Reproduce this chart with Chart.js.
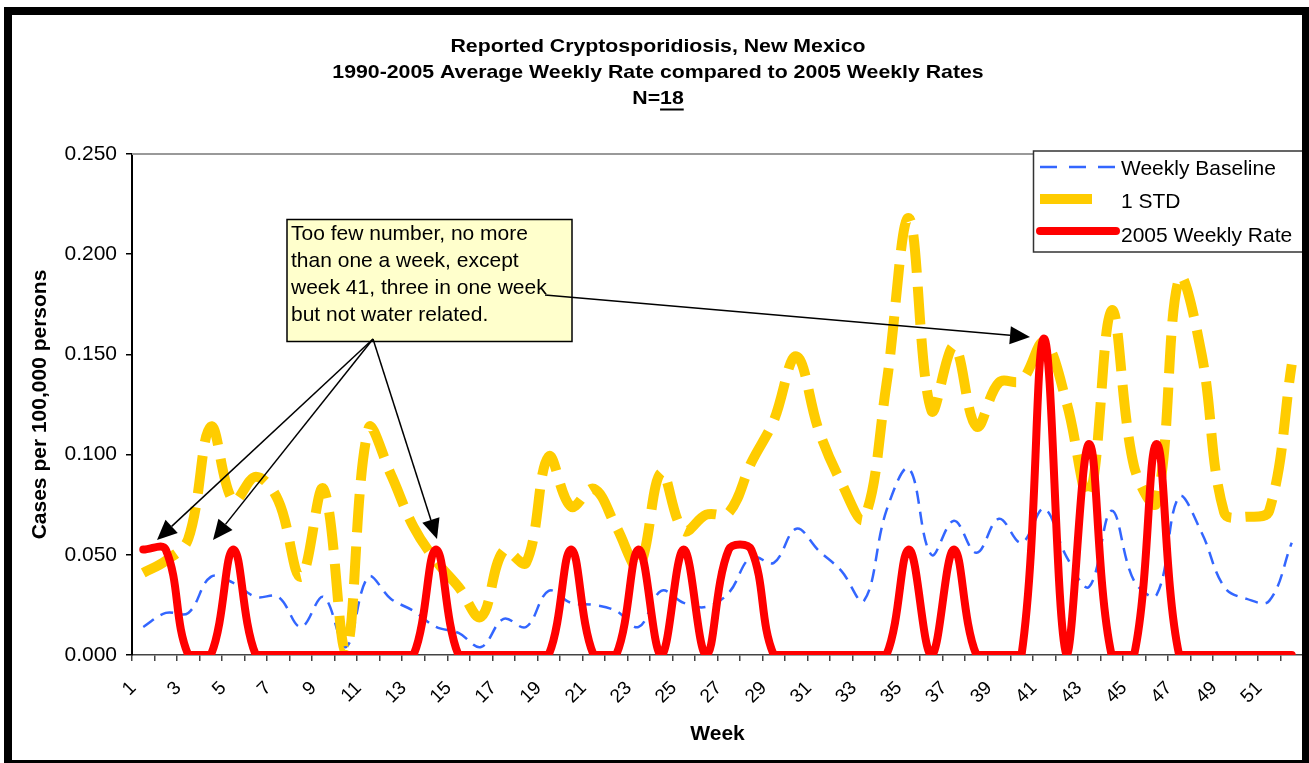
<!DOCTYPE html>
<html>
<head>
<meta charset="utf-8">
<title>Reported Cryptosporidiosis, New Mexico</title>
<script src="https://cdn.jsdelivr.net/npm/chart.js@4.4.0/dist/chart.umd.min.js"></script>
<style>
  html, body { margin: 0; padding: 0; background: #fff; }
  #wrap { position: relative; width: 1309px; height: 763px; }
</style>
</head>
<body>
<div id="wrap"><canvas id="weekly" width="1309" height="763"></canvas></div>
<script>
const weeks = ['1','2','3','4','5','6','7','8','9','10','11','12','13','14','15','16','17','18',
  '19','20','21','22','23','24','25','26','27','28','29','30','31','32','33','34','35','36',
  '37','38','39','40','41','42','43','44','45','46','47','48','49','50','51','52'];

// 1990-2005 average weekly rate
const baseline = [0.014, 0.021, 0.021, 0.039, 0.036, 0.029, 0.029, 0.014, 0.029, 0.004,
  0.039, 0.028, 0.022, 0.014, 0.011, 0.004, 0.018, 0.014, 0.032, 0.026,
  0.025, 0.022, 0.014, 0.032, 0.026, 0.024, 0.031, 0.049, 0.046, 0.063,
  0.052, 0.042, 0.027, 0.072, 0.093, 0.050, 0.067, 0.051, 0.068, 0.056,
  0.073, 0.049, 0.034, 0.072, 0.037, 0.030, 0.079, 0.061, 0.034, 0.028,
  0.027, 0.056];

// baseline + 1 standard deviation
const oneStd = [0.041, 0.047, 0.058, 0.114, 0.077, 0.089, 0.077, 0.039, 0.083, 0.002,
  0.113, 0.090, 0.064, 0.047, 0.034, 0.019, 0.052, 0.046, 0.099, 0.074,
  0.083, 0.064, 0.044, 0.091, 0.062, 0.070, 0.071, 0.096, 0.117, 0.149,
  0.112, 0.086, 0.068, 0.135, 0.218, 0.122, 0.154, 0.114, 0.136, 0.137,
  0.156, 0.126, 0.079, 0.172, 0.094, 0.076, 0.188, 0.150, 0.071, 0.069,
  0.072, 0.145];

// 2005 weekly rate (one case = 0.0526 per 100,000)
const rate2005 = [0.0526, 0.0526, 0, 0, 0.0526, 0, 0, 0, 0, 0,
  0, 0, 0, 0.0526, 0, 0, 0, 0, 0, 0.0526,
  0, 0, 0.0526, 0, 0.0526, 0, 0.0526, 0.0526, 0, 0,
  0, 0, 0, 0, 0.0526, 0, 0.0526, 0, 0, 0,
  0.1579, 0, 0.1053, 0, 0, 0.1053, 0, 0, 0, 0,
  0, 0];

const yTickValues = [0, 0.05, 0.10, 0.15, 0.20, 0.25];

const FONT = "'Liberation Sans', Arial, Helvetica, sans-serif";

const titleLines = [
  'Reported Cryptosporidiosis, New Mexico',
  '1990-2005 Average Weekly Rate compared to 2005 Weekly Rates'
];
const noteLines = [
  'Too few number, no more',
  'than one a week, except',
  'week 41, three in one week',
  'but not water related.'
];

function arrow(ctx, x0, y0, x1, y1) {
  const a = Math.atan2(y1 - y0, x1 - x0);
  const len = 20, half = 9;
  const bx = x1 - len * Math.cos(a), by = y1 - len * Math.sin(a);
  ctx.beginPath();
  ctx.moveTo(x0, y0);
  ctx.lineTo(bx, by);
  ctx.stroke();
  ctx.beginPath();
  ctx.moveTo(x1, y1);
  ctx.lineTo(bx + half * Math.sin(a), by - half * Math.cos(a));
  ctx.lineTo(bx - half * Math.sin(a), by + half * Math.cos(a));
  ctx.closePath();
  ctx.fill();
}

const decorations = {
  id: 'decorations',
  beforeDraw(chart) {
    const ctx = chart.ctx;
    ctx.save();
    ctx.fillStyle = '#fff';
    ctx.fillRect(0, 0, chart.width, chart.height);
    ctx.restore();
  },
  afterDraw(chart) {
    const ctx = chart.ctx;
    const area = chart.chartArea;
    ctx.save();

    // plot area top edge
    ctx.strokeStyle = '#999';
    ctx.lineWidth = 2;
    ctx.beginPath();
    ctx.moveTo(area.left, area.top);
    ctx.lineTo(area.right, area.top);
    ctx.stroke();

    // title, drawn slightly widened
    ctx.fillStyle = '#000';
    ctx.font = 'bold 19px ' + FONT;
    ctx.textBaseline = 'alphabetic';
    ctx.textAlign = 'center';
    const cx = 658, sx = 1.12;
    ctx.save();
    ctx.translate(cx, 0);
    ctx.scale(sx, 1);
    ctx.fillText(titleLines[0], 0, 52);
    ctx.fillText(titleLines[1], 0, 78);
    const wN = ctx.measureText('N=').width, w18 = ctx.measureText('18').width;
    const x0 = -(wN + w18) / 2;
    ctx.textAlign = 'left';
    ctx.fillText('N=', x0, 104);
    ctx.fillText('18', x0 + wN, 104);
    ctx.fillRect(x0 + wN, 108.5, w18, 2);
    ctx.restore();

    // axis titles
    ctx.font = 'bold 21px ' + FONT;
    ctx.textAlign = 'center';
    ctx.fillText('Week', (area.left + area.right) / 2, 740);
    ctx.save();
    ctx.translate(46, (area.top + area.bottom) / 2);
    ctx.rotate(-Math.PI / 2);
    ctx.fillText('Cases per 100,000 persons', 0, 0);
    ctx.restore();

    // legend
    const lx = 1033.5, ly = 151;
    ctx.fillStyle = '#fff';
    ctx.fillRect(lx, ly, 290, 101);
    ctx.strokeStyle = '#333';
    ctx.lineWidth = 1.5;
    ctx.strokeRect(lx, ly, 290, 101);
    const rows = [167, 199, 231];
    const baselines = [175, 208, 242];
    ctx.font = '21px ' + FONT;
    ctx.textAlign = 'left';
    chart.data.datasets.forEach((ds, i) => {
      ctx.save();
      ctx.strokeStyle = ds.borderColor;
      ctx.lineWidth = ds.borderWidth;
      ctx.lineCap = ds.borderCapStyle || 'butt';
      ctx.setLineDash(ds.legendDash || []);
      ctx.beginPath();
      ctx.moveTo(1040, rows[i]);
      ctx.lineTo(1116, rows[i]);
      ctx.stroke();
      ctx.restore();
      ctx.fillStyle = '#000';
      ctx.fillText(ds.label, 1121, baselines[i]);
    });

    // callout note
    ctx.fillStyle = '#FFFFCC';
    ctx.fillRect(287, 219.5, 285, 122);
    ctx.strokeStyle = '#000';
    ctx.lineWidth = 1.5;
    ctx.strokeRect(287, 219.5, 285, 122);
    ctx.fillStyle = '#000';
    noteLines.forEach((t, i) => ctx.fillText(t, 291, 240 + i * 27));

    ctx.lineWidth = 1.5;
    arrow(ctx, 373, 339, 157, 540);
    arrow(ctx, 373, 339, 213, 540);
    arrow(ctx, 373, 339, 437, 539);
    arrow(ctx, 545, 295, 1030, 337);

    // heavy outer frame
    ctx.fillStyle = '#000';
    ctx.fillRect(4, 7, 1305, 8);
    ctx.fillRect(4, 7, 8, 756);
    ctx.fillRect(1302, 7, 7, 756);
    ctx.fillRect(4, 760, 1305, 3);
    ctx.restore();
  }
};

new Chart(document.getElementById('weekly'), {
  type: 'line',
  data: {
    labels: weeks,
    datasets: [
      {
        label: 'Weekly Baseline',
        data: baseline,
        borderColor: '#3366FF',
        borderWidth: 2.5,
        borderDash: [13, 8],
        legendDash: [17, 12],
        order: 2
      },
      {
        label: '1 STD',
        data: oneStd,
        borderColor: '#FFCC00',
        borderWidth: 10,
        borderDash: [38, 14],
        legendDash: [52, 30],
        order: 1
      },
      {
        label: '2005 Weekly Rate',
        data: rate2005,
        borderColor: '#FF0000',
        borderWidth: 8,
        borderCapStyle: 'round',
        borderJoinStyle: 'round',
        order: 0
      }
    ]
  },
  options: {
    responsive: false,
    animation: false,
    devicePixelRatio: 1,
    layout: { padding: { top: 154, left: 0, right: 6, bottom: 0 } },
    elements: {
      point: { radius: 0, hoverRadius: 0 },
      line: { tension: 0.38, fill: false }
    },
    plugins: {
      legend: { display: false },
      title: { display: false },
      tooltip: { enabled: false }
    },
    scales: {
      x: {
        offset: true,
        ticks: {
          autoSkip: false,
          minRotation: 45,
          maxRotation: 45,
          labelOffset: -10,
          padding: 16,
          color: '#000',
          font: { family: FONT, size: 19 },
          callback: (v, i) => (i % 2 === 0 ? weeks[i] : '')
        },
        grid: {
          offset: true,
          drawOnChartArea: false,
          drawTicks: true,
          tickLength: 6,
          color: '#444',
          lineWidth: 1.5
        },
        border: { color: '#444', width: 1.5 },
        afterFit: (s) => {
          s.height = 108;
          s.paddingLeft = 0;
          s.paddingRight = 0;
        }
      },
      y: {
        min: 0,
        max: 0.25,
        afterBuildTicks: (s) => { s.ticks = yTickValues.map(v => ({ value: v })); },
        ticks: {
          padding: 9,
          color: '#000',
          font: { family: FONT, size: 21 },
          callback: (v) => Number(v).toFixed(3)
        },
        grid: {
          drawOnChartArea: false,
          drawTicks: true,
          tickLength: 6,
          color: '#000',
          lineWidth: 1.5
        },
        border: { color: '#000', width: 2 },
        afterFit: (s) => {
          s.width = 132;
          s.paddingTop = 0;
          s.paddingBottom = 0;
        }
      }
    }
  },
  plugins: [decorations]
});
</script>
</body>
</html>
